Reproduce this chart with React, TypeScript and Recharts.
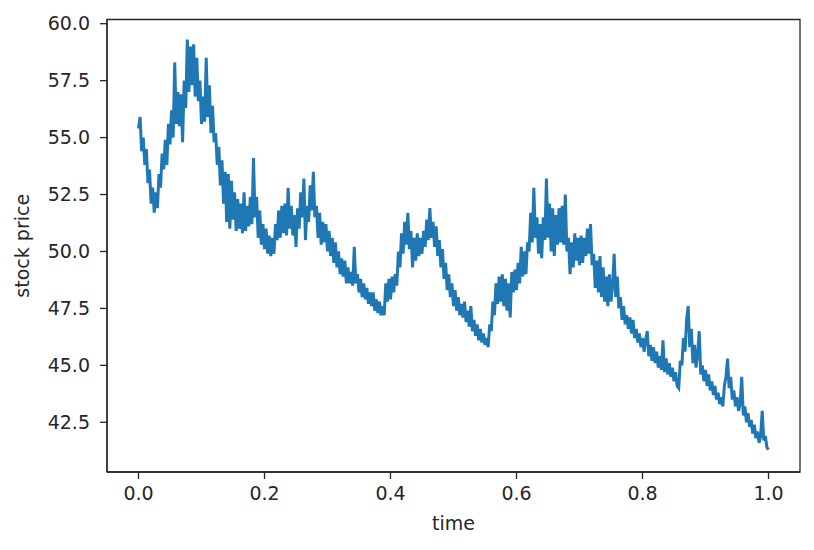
import React from "react";
import {
  LineChart,
  Line,
  XAxis,
  YAxis,
  ReferenceArea,
} from "recharts";

// price path, one value every 0.0025 of time,
// one array per tenth of the time axis
const seg0 = [
  55.4, 55.9, 54.4, 55.0, 53.8, 54.5, 53.0, 53.6, 52.1, 52.8,
  51.7, 52.6, 51.9, 53.4, 52.8, 54.3, 53.6, 54.9, 53.8, 55.6,
  54.7, 56.2, 55.0, 58.3, 55.6, 57.0, 55.5, 56.9, 54.8, 57.5,
  56.3, 59.3, 57.0, 59.0, 57.3, 59.1, 56.8, 58.5, 56.6, 57.5,
];
const seg1 = [
  55.6, 56.8, 55.7, 58.5, 55.9, 57.3, 55.2, 56.4, 54.8, 55.2,
  53.8, 54.6, 52.9, 54.0, 52.1, 53.5, 51.3, 53.4, 51.0, 53.1,
  51.4, 52.6, 50.9, 52.3, 51.0, 52.1, 50.8, 52.6, 50.9, 52.0,
  51.1, 52.4, 51.2, 54.1, 51.5, 52.4, 50.6, 51.8, 50.3, 51.2,
];
const seg2 = [
  50.1, 51.0, 49.9, 50.7, 49.8, 50.6, 49.9, 51.2, 50.5, 51.8,
  50.6, 52.0, 50.8, 52.1, 50.7, 52.8, 51.0, 52.0, 50.7, 51.6,
  50.2, 51.9, 51.0, 52.6, 51.5, 53.2, 50.5, 52.0, 51.3, 52.9,
  51.8, 53.5, 51.5, 52.0, 50.6, 51.7, 50.3, 51.3, 50.4, 51.2,
];
const seg3 = [
  50.0, 50.9, 49.8, 50.6, 49.5, 50.4, 49.3, 50.0, 49.0, 49.7,
  48.9, 49.6, 48.6, 49.3, 48.6, 49.1, 48.5, 50.2, 48.6, 49.0,
  48.2, 48.8, 48.0, 48.6, 47.9, 48.4, 47.7, 48.2, 47.6, 48.2,
  47.4, 47.9, 47.3, 47.8, 47.2, 47.6, 47.2, 48.6, 47.8, 48.8,
];
const seg4 = [
  47.9, 48.9, 48.2, 49.0, 48.5, 50.0, 49.3, 50.8, 49.9, 51.3,
  50.3, 51.7, 50.1, 50.9, 49.3, 50.6, 49.6, 50.8, 49.8, 50.6,
  49.9, 50.9, 50.2, 51.4, 50.5, 51.9, 50.6, 51.3, 50.2, 51.1,
  49.8, 50.5, 49.3, 50.1, 48.8, 49.5, 48.3, 49.0, 48.0, 48.6,
];
const seg5 = [
  47.6, 48.3, 47.4, 48.0, 47.2, 47.7, 47.1, 47.8, 46.9, 47.4,
  46.7, 47.6, 46.5, 47.0, 46.3, 46.8, 46.1, 46.6, 46.0, 46.4,
  45.9, 46.2, 45.8, 46.8, 46.5, 47.8, 47.2, 48.6, 47.7, 48.9,
  47.8, 49.0, 47.6, 48.8, 47.4, 48.6, 47.1, 49.1, 48.2, 49.2,
];
const seg6 = [
  48.3, 49.5, 48.6, 50.2, 48.9, 50.0, 49.0, 50.4, 50.0, 51.7,
  50.4, 52.8, 50.6, 51.5, 49.9, 51.2, 49.7, 51.5, 50.5, 53.2,
  50.6, 52.1, 50.0, 51.9, 49.8, 51.6, 50.3, 51.9, 50.4, 52.0,
  50.3, 52.5, 50.0, 50.6, 49.0, 50.4, 49.3, 50.8, 49.6, 50.6,
];
const seg7 = [
  49.4, 50.7, 49.5, 50.6, 49.8, 51.0, 49.9, 51.2, 49.4, 49.9,
  48.4, 49.6, 48.2, 49.8, 48.0, 49.3, 47.8, 48.9, 47.6, 49.0,
  47.8, 48.5, 49.9, 48.0, 48.9, 47.5, 48.0, 47.0, 47.6, 46.8,
  47.2, 46.6, 47.1, 46.4, 47.0, 46.2, 46.6, 46.0, 46.4, 45.8,
];
const seg8 = [
  46.2, 45.6, 46.1, 46.5, 45.4, 45.9, 45.2, 45.8, 45.1, 45.6,
  44.9, 45.4, 44.8, 46.1, 44.7, 45.3, 44.6, 45.1, 44.5, 44.9,
  44.3, 44.7, 44.1, 44.0, 45.2, 45.0, 46.2, 45.6, 47.0, 47.6,
  45.8, 46.6, 45.1, 45.9, 44.9, 45.5, 46.5, 44.6, 45.0, 44.3,
];
const seg9 = [
  44.8, 44.1, 44.6, 43.9, 44.3, 43.7, 44.1, 43.5, 43.8, 43.3,
  43.6, 43.2, 44.1, 44.5, 45.3, 44.0, 44.5, 43.5, 43.9, 43.2,
  43.6, 43.0, 43.3, 44.5, 42.8, 43.2, 42.5, 42.9, 42.3, 42.6,
  42.0, 42.4, 41.8, 42.1, 41.6, 41.9, 43.0, 41.7, 41.9, 41.4,
  41.3,
];

const prices = [
  ...seg0, ...seg1, ...seg2, ...seg3, ...seg4,
  ...seg5, ...seg6, ...seg7, ...seg8, ...seg9,
];
const xTicks = [0, 0.2, 0.4, 0.6, 0.8, 1.0];
const yTicks = [42.5, 45, 47.5, 50, 52.5, 55, 57.5, 60];

// samples are evenly spaced over [0, 1], as in the original time grid
const data = prices.map((price, i) => ({ time: i / (prices.length - 1), price }));

const FONT = "DejaVu Sans";
const INK = "#262626";
const BLUE = "#1f77b4";

const XLabel = ({ viewBox }: any) => (
  <text
    x={viewBox.x + viewBox.width / 2}
    y={523}
    textAnchor="middle"
    dominantBaseline="central"
    fontFamily={FONT}
    fontSize={19}
    fill={INK}
  >
    time
  </text>
);

const YLabel = ({ viewBox }: any) => {
  const cx = 22;
  const cy = viewBox.y + viewBox.height / 2;
  return (
    <text
      x={cx}
      y={cy}
      transform={`rotate(-90 ${cx} ${cy})`}
      textAnchor="middle"
      dominantBaseline="central"
      fontFamily={FONT}
      fontSize={19}
      fill={INK}
    >
      stock price
    </text>
  );
};

export default function App() {
  return (
    <div style={{ position: "absolute", left: 0, top: 0, width: 814, height: 550, background: "#fff" }}>
      <LineChart
        width={814}
        height={550}
        data={data}
        margin={{ top: 19.5, right: 14, bottom: 0, left: 0 }}
      >
        <XAxis
          dataKey="time"
          type="number"
          domain={[-0.05, 1.05]}
          ticks={xTicks}
          tickFormatter={(v) => v.toFixed(1)}
          height={78}
          tickSize={7}
          tickMargin={8}
          axisLine={{ stroke: INK, strokeWidth: 1.3 }}
          tickLine={{ stroke: INK, strokeWidth: 1.3 }}
          tick={{ fill: INK, fontSize: 19, fontFamily: FONT }}
          allowDataOverflow
          label={<XLabel />}
        />
        <YAxis
          type="number"
          domain={[40.318, 60.184]}
          ticks={yTicks}
          tickFormatter={(v) => v.toFixed(1)}
          width={107}
          tickSize={7}
          tickMargin={10}
          axisLine={{ stroke: INK, strokeWidth: 1.3 }}
          tickLine={{ stroke: INK, strokeWidth: 1.3 }}
          tick={{ fill: INK, fontSize: 19, fontFamily: FONT }}
          allowDataOverflow
          label={<YLabel />}
        />
        <ReferenceArea
          x1={-0.05}
          x2={1.05}
          y1={40.318}
          y2={60.184}
          fill="none"
          stroke={INK}
          strokeWidth={1.3}
        />
        <Line
          type="linear"
          dataKey="price"
          stroke={BLUE}
          strokeWidth={3}
          dot={false}
          isAnimationActive={false}
        />
      </LineChart>
    </div>
  );
}
